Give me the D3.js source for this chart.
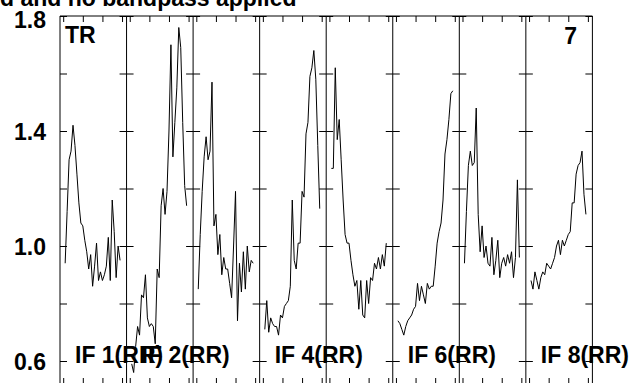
<!DOCTYPE html>
<html>
<head>
<meta charset="utf-8">
<script src="https://cdn.jsdelivr.net/npm/d3@7"></script>
<style>
  body { margin: 0; background: #fff; }
  svg { display: block; font-family: "Liberation Sans", Arial, sans-serif; }
</style>
</head>
<body>
<div id="vis"></div>
<script>
// channels per IF panel
var channels = [1,2,3,4,5,6,7,8,9,10,11,12,13,14,15,16,17,18,19,20,21,22,23,24,25,26,27,28,29];

var if1 = [0.94,1.12,1.30,1.33,1.42,1.35,1.25,1.15,1.08,1.07,1.02,0.98,0.92,0.97,0.86,0.93,1.01,0.88,0.91,0.88,0.90,0.93,1.03,0.88,1.16,1.05,0.89,1.00,0.95];
var if2 = [0.59,0.56,0.65,0.72,0.69,0.83,0.82,0.90,0.75,0.72,0.73,0.72,0.66,0.92,0.89,1.14,1.20,1.11,1.19,1.40,1.70,1.31,1.43,1.55,1.76,1.69,1.43,1.21,1.14];
var if3 = [0.85,1.04,1.19,1.31,1.38,1.30,1.33,1.57,1.07,1.11,0.97,1.04,0.90,0.96,0.92,0.92,0.87,0.82,1.00,1.19,0.74,0.94,0.84,0.98,0.85,1.00,0.91,0.95,0.94];
var if4 = [0.71,0.81,0.70,0.75,0.73,0.72,0.72,0.69,0.76,0.75,0.79,0.80,0.81,0.86,1.16,0.95,0.92,1.01,1.01,1.19,1.17,1.39,1.43,1.59,1.62,1.68,1.58,1.35,1.13];
var if5 = [1.27,1.27,1.62,1.37,1.44,1.30,1.16,1.04,1.01,1.01,0.95,0.90,0.86,0.88,0.78,0.88,0.76,0.75,0.88,0.80,0.89,0.88,0.94,0.92,0.96,0.92,0.97,0.93,1.01];
var if6 = [0.74,0.73,0.71,0.69,0.72,0.74,0.75,0.76,0.78,0.79,0.87,0.81,0.86,0.83,0.80,0.87,0.85,0.86,0.86,0.93,1.01,1.05,1.08,1.16,1.32,1.37,1.44,1.53,1.54];
var if7 = [0.94,1.12,1.28,1.33,1.28,1.29,1.48,1.11,0.98,1.07,0.96,1.00,0.94,0.93,1.03,0.90,0.95,1.02,0.89,0.94,0.96,0.93,0.97,0.94,0.98,0.89,0.96,1.23,0.96];
var if8 = [0.88,0.85,0.91,0.88,0.85,0.89,0.91,0.90,0.94,0.93,0.92,0.94,0.96,1.00,1.02,0.97,1.02,1.00,1.02,1.04,1.05,1.15,1.15,1.25,1.28,1.29,1.33,1.18,1.11];

var series = [if1, if2, if3, if4, if5, if6, if7, if8];
var panelLabels = ["IF 1(RR)", "IF 2(RR)", "", "IF 4(RR)", "", "IF 6(RR)", "", "IF 8(RR)"];
var yTicks = [0.6, 0.8, 1.0, 1.2, 1.4, 1.6, 1.8];
var yLabels = [0.6, 1.0, 1.4, 1.8];
var xTicks = [0, 10, 20, 30];

function init()
{
  var width = 635, height = 383;
  var left = 60, right = 592.4, top = 16, bottom = 384;
  var nPanel = series.length;
  var fontSize = "23px";

  var svg = d3.select("#vis")
    .append("svg")
    .attr("width", width)
    .attr("height", height);

  var panelX = d3.scaleLinear()
    .domain([0, nPanel])
    .range([left, right]);

  var yScale = d3.scaleLinear()
    .domain([0.52, 1.8])
    .range([bottom, top]);

  // title (cut at the top of the picture)
  svg.append("text")
    .attr("x", 0)
    .attr("y", 6)
    .style("font-size", "23px")
    .style("font-weight", "bold")
    .text("d and no bandpass applied");

  // y labels
  var yLab = svg.append("g")
    .attr("transform", "translate(" + left + ",0)")
    .call(d3.axisLeft(yScale).tickValues(yLabels).tickSize(0).tickPadding(14)
      .tickFormat(d3.format(".1f")));
  yLab.select(".domain").remove();
  yLab.selectAll("text")
    .style("font-family", "'Liberation Sans', Arial, sans-serif")
    .style("font-size", fontSize)
    .style("font-weight", "bold")
    .attr("fill", "#000")
    .attr("dy", function(d) {return d === 1.8 ? "0.5em" : "0.35em";});

  // panel boundary lines with y ticks
  for (var b = 0; b <= nPanel; b++) {
    var bx = panelX(b);
    if (b < nPanel) {
      var gr = svg.append("g")
        .attr("transform", "translate(" + bx + ",0)")
        .call(d3.axisRight(yScale).tickValues(yTicks).tickSize(7).tickFormat(""));
      gr.select(".domain").remove();
    }
    if (b > 0) {
      var gl = svg.append("g")
        .attr("transform", "translate(" + bx + ",0)")
        .call(d3.axisLeft(yScale).tickValues(yTicks).tickSize(7).tickFormat(""));
      gl.select(".domain").remove();
    }
    svg.append("line")
      .attr("x1", bx).attr("x2", bx)
      .attr("y1", top).attr("y2", bottom)
      .style("stroke", "#000")
      .style("stroke-width", 1);
  }

  svg.append("line")
    .attr("x1", left).attr("x2", right)
    .attr("y1", top).attr("y2", top)
    .style("stroke", "#000")
    .style("stroke-width", 1);

  var line = d3.line();

  series.forEach(function(vals, i) {
    var xScale = d3.scaleLinear()
      .domain([-1.63, 32.3])
      .range([panelX(i), panelX(i + 1)]);

    var gt = svg.append("g")
      .attr("transform", "translate(0," + top + ")")
      .call(d3.axisBottom(xScale).tickValues(xTicks).tickSize(6).tickFormat(""));
    gt.select(".domain").remove();

    var gb = svg.append("g")
      .attr("transform", "translate(0," + bottom + ")")
      .call(d3.axisTop(xScale).tickValues(xTicks).tickSize(6).tickFormat(""));
    gb.select(".domain").remove();

    svg.append("path")
      .datum(vals)
      .attr("d", line.x(function(d, j) {return xScale(channels[j]);})
                     .y(function(d) {return yScale(d);}))
      .style("fill", "none")
      .style("stroke", "#000")
      .style("stroke-width", 1);

    if (panelLabels[i]) {
      svg.append("text")
        .attr("x", panelX(i) + 15)
        .attr("y", 363)
        .style("font-size", fontSize)
        .style("font-weight", "bold")
        .text(panelLabels[i]);
    }
  });

  svg.append("text")
    .attr("x", 65)
    .attr("y", 43)
    .style("font-size", fontSize)
    .style("font-weight", "bold")
    .text("TR");

  svg.append("text")
    .attr("x", 577)
    .attr("y", 44)
    .style("font-size", fontSize)
    .style("font-weight", "bold")
    .style("text-anchor", "end")
    .text("7");
}

window.onload = init;
</script>
</body>
</html>
